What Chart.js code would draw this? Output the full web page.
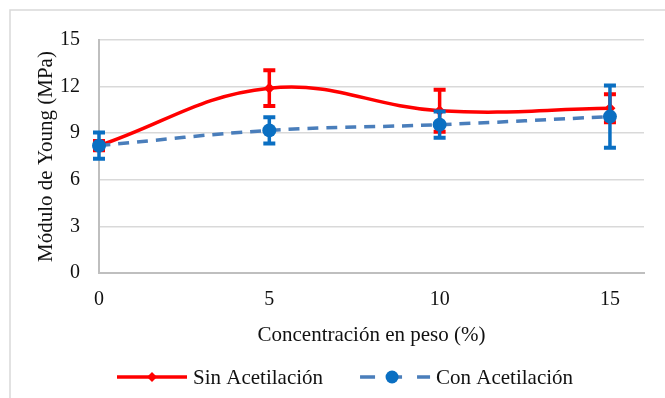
<!DOCTYPE html>
<html>
<head>
<meta charset="utf-8">
<script src="https://cdn.jsdelivr.net/npm/chart.js@4"></script>
<style>
  body { margin: 0; background: #fff; }
  #wrap { width: 665px; height: 398px; }
</style>
</head>
<body>
<div id="wrap"><canvas id="young-chart" width="665" height="398"></canvas></div>
<script>
// datos
const concentracion = [0, 5, 10, 15];
const xTicks = [0, 5, 10, 15];
const sinAcet = [8.2, 11.9, 10.45, 10.6];
const sinAcetErr = [0.3, 1.15, 1.35, 0.9];
const conAcet = [8.2, 9.18, 9.55, 10.07];
const conAcetErr = [0.85, 0.85, 0.85, 2.0];

const serif = '"Liberation Serif", "Times New Roman", serif';
const textColor = '#111';

const toPoints = (vals) =>
    concentracion.map((x, i) => ({ x: x, y: vals[i] }));

const errorBars = {
    id: 'errorBars',
    afterDatasetDraw(chart, args) {
        const ctx = chart.ctx;
        const x = chart.scales.x;
        const y = chart.scales.y;
        const ds = chart.data.datasets[args.index];
        const err = ds.errores;
        ctx.save();
        ctx.strokeStyle = ds.pointBackgroundColor;
        ds.data.forEach((p, i) => {
            const px = x.getPixelForValue(p.x);
            const top = y.getPixelForValue(p.y + err[i]);
            const bot = y.getPixelForValue(p.y - err[i]);
            ctx.lineWidth = 3.5;
            ctx.beginPath();
            ctx.moveTo(px, top);
            ctx.lineTo(px, bot);
            ctx.stroke();
            ctx.lineWidth = 4;
            ctx.beginPath();
            ctx.moveTo(px - 6, top);
            ctx.lineTo(px + 6, top);
            ctx.moveTo(px - 6, bot);
            ctx.lineTo(px + 6, bot);
            ctx.stroke();
        });
        ctx.restore();
    }
};

const frameAndLegend = {
    id: 'frameAndLegend',
    beforeDraw(chart) {
        const ctx = chart.ctx;
        ctx.save();
        ctx.strokeStyle = '#d9d9d9';
        ctx.lineWidth = 1.5;
        ctx.beginPath();
        ctx.moveTo(10, 398);
        ctx.lineTo(10, 10);
        ctx.lineTo(665, 10);
        ctx.stroke();
        ctx.restore();
    },
    afterDraw(chart) {
        const ctx = chart.ctx;
        const sets = chart.data.datasets;
        // leyenda en el orden original: Sin, Con
        const items = [sets[1], sets[0]];
        const ly = 377;
        const sample = 70;
        const gap = 6;
        const between = 37;
        ctx.save();
        ctx.font = '21px ' + serif;
        let lx = 117;
        items.forEach((d) => {
            ctx.strokeStyle = d.borderColor;
            ctx.lineWidth = d.borderWidth;
            ctx.beginPath();
            if (d.borderDash) {
                ctx.moveTo(lx, ly);
                ctx.lineTo(lx + 15, ly);
                ctx.moveTo(lx + 30, ly);
                ctx.lineTo(lx + 42, ly);
                ctx.moveTo(lx + sample - 13, ly);
                ctx.lineTo(lx + sample, ly);
            } else {
                ctx.moveTo(lx, ly);
                ctx.lineTo(lx + sample, ly);
            }
            ctx.stroke();
            const cx = d.borderDash ? lx + 32 : lx + sample / 2;
            ctx.fillStyle = d.pointBackgroundColor;
            ctx.beginPath();
            if (d.pointStyle === 'rectRot') {
                const r = 5;
                ctx.moveTo(cx, ly - r);
                ctx.lineTo(cx + r, ly);
                ctx.lineTo(cx, ly + r);
                ctx.lineTo(cx - r, ly);
                ctx.closePath();
            } else {
                ctx.arc(cx, ly, 6.5, 0, Math.PI * 2);
            }
            ctx.fill();
            ctx.fillStyle = textColor;
            ctx.textBaseline = 'middle';
            ctx.fillText(d.label, lx + sample + gap, ly + 1);
            lx += sample + gap + ctx.measureText(d.label).width + between;
        });
        ctx.restore();
    }
};

const ctx = document.getElementById('young-chart');

new Chart(ctx, {
    type: 'line',
    data: {
        datasets: [
            {
                label: 'Con Acetilación',
                data: toPoints(conAcet),
                errores: conAcetErr,
                borderColor: '#4a7ebb',
                borderWidth: 3.5,
                borderDash: [11, 8],
                tension: 0.4,
                pointStyle: 'circle',
                pointRadius: 7,
                pointBackgroundColor: '#0a6fc2',
                pointBorderColor: '#0a6fc2',
                pointBorderWidth: 0,
                clip: false,
                order: 1
            },
            {
                label: 'Sin Acetilación',
                data: toPoints(sinAcet),
                errores: sinAcetErr,
                borderColor: '#ff0000',
                borderWidth: 3.5,
                tension: 0.4,
                pointStyle: 'rectRot',
                pointRadius: 5.5,
                pointBackgroundColor: '#ff0000',
                pointBorderColor: '#ff0000',
                pointBorderWidth: 0,
                clip: false,
                order: 2
            }
        ]
    },
    options: {
        responsive: false,
        animation: false,
        events: [],
        layout: {
            padding: { left: 30, top: 40, right: 21, bottom: 46 }
        },
        plugins: {
            legend: { display: false },
            tooltip: { enabled: false }
        },
        scales: {
            x: {
                type: 'linear',
                min: 0,
                max: 16,
                afterBuildTicks: (scale) => {
                    scale.ticks = xTicks.map(v => ({ value: v }));
                },
                afterFit: (scale) => { scale.height = 79; },
                grid: { display: false, drawTicks: false },
                border: { color: '#bfbfbf', width: 2 },
                ticks: {
                    padding: 15,
                    color: textColor,
                    font: { family: serif, size: 20 }
                },
                title: {
                    display: true,
                    text: 'Concentración en peso (%)',
                    color: textColor,
                    font: { family: serif, size: 21 }
                }
            },
            y: {
                min: 0,
                max: 15,
                afterFit: (scale) => { scale.width = 69; },
                ticks: {
                    stepSize: 3,
                    padding: 19,
                    color: textColor,
                    font: { family: serif, size: 20 }
                },
                grid: { color: '#d9d9d9', lineWidth: 1.5, drawTicks: false },
                border: { color: '#bfbfbf', width: 2 },
                title: {
                    display: true,
                    text: 'Módulo de Young (MPa)',
                    color: textColor,
                    font: { family: serif, size: 21 }
                }
            }
        }
    },
    plugins: [errorBars, frameAndLegend]
});
</script>
</body>
</html>
